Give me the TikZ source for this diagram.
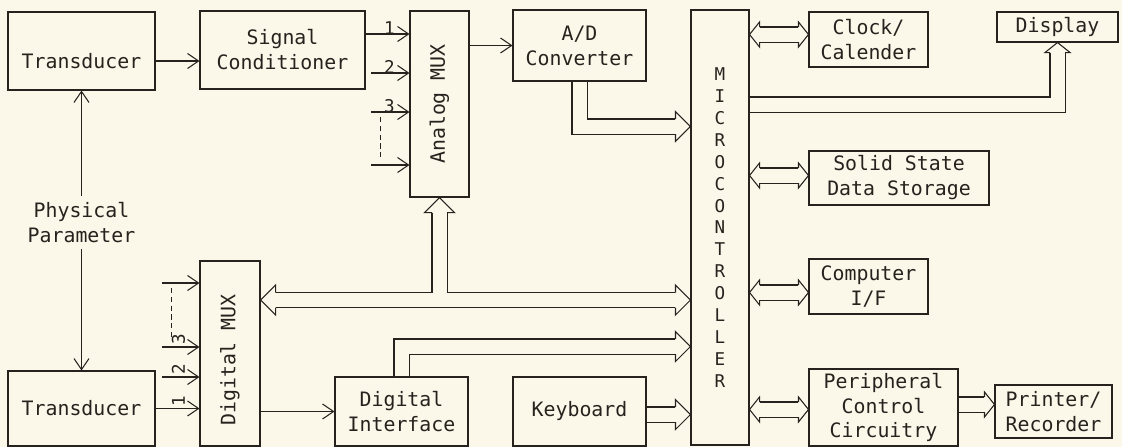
\documentclass[tikz,border=0pt]{standalone}
\usepackage{fontspec}
\newfontfamily\plotfont{DejaVu Sans Mono}
\usetikzlibrary{arrows.meta}
\definecolor{paper}{RGB}{251,247,233}
\definecolor{ink}{RGB}{40,34,30}

\begin{document}
\begin{tikzpicture}[
  line width=0.6pt,
  >={Straight Barb[length=2.2mm,width=3mm]},
  box/.style={draw=ink, inner sep=0pt, align=center, text=ink,
              font=\plotfont\fontsize{11.3}{14.2}\selectfont},
  lbl/.style={text=ink, align=center, font=\plotfont\fontsize{11.3}{14.2}\selectfont},
  num/.style={text=ink, inner sep=0.5pt, font=\plotfont\fontsize{10}{11}\selectfont},
  sig/.style={draw=ink, ->},
  bus/.style={draw=ink, double=paper, double distance=2.8mm},
  bighead/.pic={
    \fill[paper] (-0.30,0.30) -- (0,0) -- (-0.30,-0.30) -- cycle;
    \draw[ink] (-0.30,0.15) -- (-0.30,0.30) -- (0,0) -- (-0.30,-0.30) -- (-0.30,-0.15);
  },
  smallhead/.pic={
    \fill[paper] (-0.20,0.25) -- (0,0) -- (-0.20,-0.25) -- cycle;
    \draw[ink] (-0.20,0.15) -- (-0.20,0.25) -- (0,0) -- (-0.20,-0.25) -- (-0.20,-0.15);
  },
]

% ===== Paper and bounding box ==================================================
\fill[paper] (0,0) rectangle (22.44,-8.94);
\useasboundingbox (0,0) rectangle (22.44,-8.94);

% ===== Blocks ==================================================================
\node[box, minimum width=2.94cm, minimum height=1.56cm, text height=0.7cm] (tdA) at (1.63,-1.02) {Transducer};
\node[box, minimum width=3.30cm, minimum height=1.56cm] (sigc) at (5.65,-1.00)  {Signal\\Conditioner};
\node[box, minimum width=1.18cm, minimum height=3.72cm] (amux) at (8.79,-2.08)  {};
\node[box, minimum width=2.66cm, minimum height=1.42cm] (adc)  at (11.59,-0.91) {A/D\\Converter};
\node[box, minimum width=1.16cm, minimum height=8.70cm,
      font=\plotfont\fontsize{10}{12.45}\selectfont]    (mcu)  at (14.40,-4.55)
  {M\\I\\C\\R\\O\\C\\O\\N\\T\\R\\O\\L\\L\\E\\R};

% Right-hand peripherals
\node[box, minimum width=2.38cm, minimum height=1.10cm] (clk)  at (17.37,-0.79) {Clock/\\Calender};
\node[box, minimum width=2.42cm, minimum height=0.60cm] (disp) at (21.15,-0.54) {Display};
\node[box, minimum width=3.60cm, minimum height=1.08cm] (sss)  at (17.98,-3.56) {Solid State\\Data Storage};
\node[box, minimum width=2.38cm, minimum height=1.10cm] (cif)  at (17.37,-5.73) {Computer\\I/F};
\node[box, minimum width=2.98cm, minimum height=1.54cm] (pcc)  at (17.67,-8.15) {Peripheral\\Control\\Circuitry};
\node[box, minimum width=2.34cm, minimum height=1.06cm] (prn)  at (21.07,-8.23) {Printer/\\Recorder};

% Bottom row
\node[box, minimum width=2.94cm, minimum height=1.50cm] (tdB)  at (1.63,-8.17)  {Transducer};
\node[box, minimum width=1.20cm, minimum height=3.70cm] (dmux) at (4.60,-7.07)  {};
\node[box, minimum width=2.66cm, minimum height=1.38cm] (dif)  at (8.03,-8.23)  {Digital\\Interface};
\node[box, minimum width=2.66cm, minimum height=1.38cm] (kbd)  at (11.59,-8.23) {Keyboard};

% Rotated MUX texts
\node[lbl, rotate=90] (amuxtxt) at (amux.center) {Analog MUX};
\node[lbl, rotate=90] (dmuxtxt) at ([yshift=-0.13cm]dmux.center) {Digital MUX};

% Physical parameter between the transducers
\node[lbl] (param) at (1.63,-4.45) {Physical\\Parameter};
\draw[sig] (param.north) -- (tdA.south);
\draw[sig] (param.south) -- (tdB.north);

% ===== Analog path =============================================================
\coordinate (tdout) at ([yshift=-0.20cm]tdA.east);
\draw[sig] (tdout) -- (tdout -| sigc.west);

% Analog MUX inputs 1,2,3 ... n
\foreach \i/\dy in {1/1.40, 2/0.62, 3/-0.16, 4/-1.22}
  \coordinate (ain\i) at ([yshift=\dy cm]amux.west);
\draw[sig] (sigc.east |- ain1) -- (ain1);
\foreach \i in {2,3,4}
  \draw[sig] ([xshift=-0.76cm]ain\i) -- (ain\i);
\foreach \i in {1,2,3}
  \node[num, anchor=south] (anum\i) at ([xshift=-0.40cm,yshift=-0.04cm]ain\i) {\i};
\draw[draw=ink, densely dashed] ([xshift=-0.58cm,yshift=-0.10cm]ain3) -- ([xshift=-0.58cm,yshift=0.14cm]ain4);

\draw[sig] (amux.east |- adc.west) -- (adc.west);

% ===== Digital path ============================================================
\coordinate (din1) at (tdB.east -| dmux.west);
\foreach \i/\dy in {2/-0.47, 3/0.13, 4/1.41}
  \coordinate (din\i) at ([yshift=\dy cm]dmux.west);
\draw[sig] (tdB.east) -- (din1);
\foreach \i in {2,3,4}
  \draw[sig] ([xshift=-0.74cm]din\i) -- (din\i);
\foreach \i in {1,2,3}
  \node[num, rotate=90, anchor=west] (dnum\i) at ([xshift=-0.42cm,yshift=0.02cm]din\i) {\i};
\draw[draw=ink, densely dashed] ([xshift=-0.56cm,yshift=-0.10cm]din4) -- ([xshift=-0.56cm,yshift=0.20cm]din3);

\draw[sig] (dmux.east |- dif.west) -- (dif.west);

% ===== Buses into the microcontroller ==========================================
\coordinate (adin) at ([yshift=2.02cm]mcu.west);
\coordinate (difin) at ([yshift=-2.38cm]mcu.west);
\coordinate (kbdin) at ([yshift=-0.06cm]kbd.east -| mcu.west);
\draw[bus, shorten >=3mm] (adc.south) |- (adin);
\draw[bus, shorten >=3mm] (dif.north) |- (difin);
\draw[bus, shorten >=3mm] (kbd.east |- kbdin) -- (kbdin);
\foreach \p in {adin, difin, kbdin}
  \pic at (\p) {bighead};

% Digital MUX <-> microcontroller, branch up to the analog MUX
\coordinate (dlvl) at (0,-6.00);
\coordinate (dmuxout) at (dmux.east |- dlvl);
\coordinate (dlvlin) at (mcu.west |- dlvl);
\draw[bus, shorten <=3mm, shorten >=3mm] (dmuxout) -- (dlvlin);
\coordinate (tap) at (amux.south |- dlvl);
\draw[bus, shorten >=3mm] ([yshift=0.14cm]tap) -- (amux.south);
\pic[rotate=180] at (dmuxout) {bighead};
\pic at (dlvlin) {bighead};
\pic[rotate=90] at (amux.south) {bighead};

% ===== Buses to the peripherals ================================================
\coordinate (dispout) at ([yshift=2.46cm]mcu.east);
\draw[bus, shorten >=2mm] (dispout) -| (disp.south);
\pic[rotate=90] at (disp.south) {smallhead};

\foreach \b/\dy in {clk/0.10, sss/0.05, cif/-0.12, pcc/-0.04} {
  \coordinate (\b in) at ([yshift=\dy cm]\b.west);
  \draw[bus, shorten <=2mm, shorten >=2mm] (mcu.east |- \b in) -- (\b in);
  \pic[rotate=180] at (mcu.east |- \b in) {smallhead};
  \pic at (\b in) {smallhead};
}

\coordinate (prnin) at ([yshift=0.06cm]pcc.east -| prn.west);
\draw[bus, shorten >=2mm] (pcc.east |- prnin) -- (prnin);
\pic at (prnin) {smallhead};

\end{tikzpicture}
\end{document}
